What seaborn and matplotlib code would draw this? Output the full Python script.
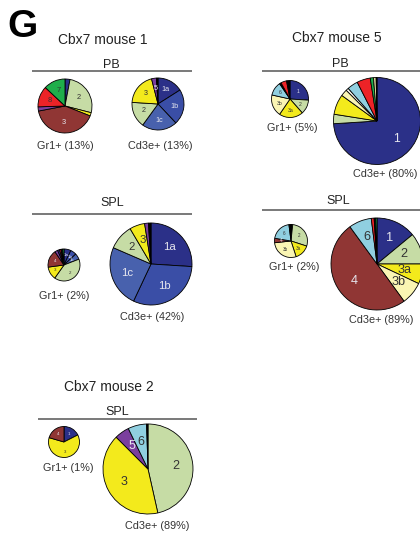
import matplotlib

matplotlib.use("Agg")
import matplotlib.pyplot as plt
import seaborn as sns

sns.set_style("white")
plt.rcParams["font.family"] = ["Liberation Sans", "DejaVu Sans"]

W, H = 420, 536

# clone colours (by key)
PALETTE = {
    "navy": "#2b3088",
    "b1b": "#3a4ea6",
    "b1c": "#4861ad",
    "lgreen": "#c6dca5",
    "yellow": "#f3ea1c",
    "pyellow": "#faf5b3",
    "dred": "#903634",
    "purple": "#7b3f9e",
    "lblue": "#90cfe0",
    "red": "#ec2327",
    "green": "#1fae4b",
    "tan": "#d9d49a",
    "white": "#fbfbf2",
    "black": "#000000",
}
DARK_KEYS = {"navy", "b1b", "b1c", "dred", "purple"}

# ---- data: slice shares, clockwise from 12 o'clock ----
# Cbx7 mouse 1, PB
m1_pb_gr1_sizes = [3, 26, 2, 41, 2.5, 12.5, 13]
m1_pb_gr1_labels = ["", "2", "", "3", "", "8", "7"]
m1_pb_gr1_colors = ["navy", "lgreen", "yellow", "dred", "purple", "red", "green"]

m1_pb_cd3_sizes = [16, 22, 22, 16, 20, 3, 1]
m1_pb_cd3_labels = ["1a", "1b", "1c", "2", "3", "5", ""]
m1_pb_cd3_colors = ["navy", "b1b", "b1c", "lgreen", "yellow", "purple", "black"]

# Cbx7 mouse 1, SPL
m1_spl_gr1_sizes = [7, 6, 6, 40.5, 13, 17.5, 3, 2, 1.5, 1.5, 1.5]
m1_spl_gr1_labels = ["1a", "1b", "1c", "2", "3", "4", "", "", "", "", ""]
m1_spl_gr1_colors = ["navy", "b1b", "b1c", "lgreen", "yellow", "dred",
                     "purple", "navy", "red", "black", "green"]

m1_spl_cd3_sizes = [26, 31, 24.5, 10, 6, 1.5, 1]
m1_spl_cd3_labels = ["1a", "1b", "1c", "2", "3", "", ""]
m1_spl_cd3_colors = ["navy", "b1b", "b1c", "lgreen", "yellow", "purple", "black"]

# Cbx7 mouse 5, PB
m5_pb_gr1_sizes = [26, 12.5, 21, 19, 12, 1.5, 5, 3]
m5_pb_gr1_labels = ["1", "2", "3a", "3b", "6", "", "", ""]
m5_pb_gr1_colors = ["navy", "lgreen", "yellow", "pyellow", "lblue", "black", "red", "black"]

m5_pb_cd3_sizes = [74, 3.5, 7.5, 2.5, 1, 4, 5, 1.2, 1, 0.3]
m5_pb_cd3_labels = ["1", "", "", "", "", "", "", "", "", ""]
m5_pb_cd3_colors = ["navy", "lgreen", "yellow", "pyellow", "white", "lblue",
                    "red", "green", "tan", "black"]

# Cbx7 mouse 5, SPL
m5_spl_gr1_sizes = [1.7, 28.3, 15, 28.3, 4.4, 20.3, 2]
m5_spl_gr1_labels = ["", "2", "3a", "3b", "4", "6", ""]
m5_spl_gr1_colors = ["black", "lgreen", "yellow", "pyellow", "dred", "lblue", "black"]

m5_spl_cd3_sizes = [14, 11, 7, 8, 50, 8, 1, 0.5, 0.5]
m5_spl_cd3_labels = ["1", "2", "3a", "3b", "4", "6", "", "", ""]
m5_spl_cd3_colors = ["navy", "lgreen", "yellow", "pyellow", "dred", "lblue",
                     "red", "black", "green"]

# Cbx7 mouse 2, SPL
m2_spl_gr1_sizes = [17.5, 62, 20.5]
m2_spl_gr1_labels = ["1", "3", "4"]
m2_spl_gr1_colors = ["navy", "yellow", "dred"]

m2_spl_cd3_sizes = [46.5, 41, 5.3, 6.7, 0.5]
m2_spl_cd3_labels = ["2", "3", "5", "6", ""]
m2_spl_cd3_colors = ["lgreen", "yellow", "purple", "lblue", "black"]

# ---- layout (pixel coords, y measured from top) ----
pies = [
    (m1_pb_gr1_sizes, m1_pb_gr1_labels, m1_pb_gr1_colors, 65, 106, 27),
    (m1_pb_cd3_sizes, m1_pb_cd3_labels, m1_pb_cd3_colors, 158, 104, 26),
    (m1_spl_gr1_sizes, m1_spl_gr1_labels, m1_spl_gr1_colors, 64, 265, 16),
    (m1_spl_cd3_sizes, m1_spl_cd3_labels, m1_spl_cd3_colors, 151, 264, 41),
    (m5_pb_gr1_sizes, m5_pb_gr1_labels, m5_pb_gr1_colors, 290, 99, 18.5),
    (m5_pb_cd3_sizes, m5_pb_cd3_labels, m5_pb_cd3_colors, 377, 121, 43.5),
    (m5_spl_gr1_sizes, m5_spl_gr1_labels, m5_spl_gr1_colors, 291, 241, 16.5),
    (m5_spl_cd3_sizes, m5_spl_cd3_labels, m5_spl_cd3_colors, 377, 264, 46),
    (m2_spl_gr1_sizes, m2_spl_gr1_labels, m2_spl_gr1_colors, 64, 442, 15.5),
    (m2_spl_cd3_sizes, m2_spl_cd3_labels, m2_spl_cd3_colors, 148, 469, 45),
]

titles = [("Cbx7 mouse 1", 103, 40), ("Cbx7 mouse 5", 337, 38), ("Cbx7 mouse 2", 109, 387)]
tissues = [("PB", 111, 65, 32, 192, 71), ("SPL", 112, 203, 32, 192, 214),
           ("PB", 340, 64, 262, 420, 71), ("SPL", 338, 201, 262, 420, 210),
           ("SPL", 117, 412, 38, 197, 419)]
captions = [
    ("Gr1+ (13%)", 65, 146), ("Cd3e+ (13%)", 160, 146),
    ("Gr1+ (2%)", 64, 296), ("Cd3e+ (42%)", 152, 317),
    ("Gr1+ (5%)", 292, 128), ("Cd3e+ (80%)", 385, 174),
    ("Gr1+ (2%)", 294, 267), ("Cd3e+ (89%)", 381, 320),
    ("Gr1+ (1%)", 68, 468), ("Cd3e+ (89%)", 157, 526),
]

fig = plt.figure(figsize=(W / 100, H / 100), dpi=100)
ax = fig.add_axes([0, 0, 1, 1])

for sizes, labels, keys, cx, cy, r in pies:
    wedges, texts = ax.pie(
        sizes,
        labels=labels,
        colors=[PALETTE[k] for k in keys],
        radius=r,
        center=(cx, H - cy),
        startangle=90,
        counterclock=False,
        labeldistance=0.62,
        frame=True,
        wedgeprops=dict(edgecolor="black", linewidth=0.6),
        textprops=dict(fontsize=r * 0.2, ha="center", va="center"),
    )
    for t, k in zip(texts, keys):
        t.set_color("#e6e6ee" if k in DARK_KEYS else "#333333")

for txt, x, y in titles:
    ax.text(x, H - y, txt, fontsize=10, color="#222222", ha="center", va="center")

for txt, x, y, x0, x1, ly in tissues:
    ax.text(x, H - y, txt, fontsize=9, color="#222222", ha="center", va="center")
    ax.plot([x0, x1], [H - ly, H - ly], color="#555555", lw=1.1, solid_capstyle="butt")

for txt, x, y in captions:
    ax.text(x, H - y, txt, fontsize=7.8, color="#333333", ha="center", va="center")

ax.text(7, H - 37, "G", fontsize=28, fontweight="bold", color="black", ha="left", va="baseline")

ax.set_xlim(0, W)
ax.set_ylim(0, H)
ax.set_aspect("equal")
ax.axis("off")

fig.savefig("out.png", dpi=100, facecolor="white")
